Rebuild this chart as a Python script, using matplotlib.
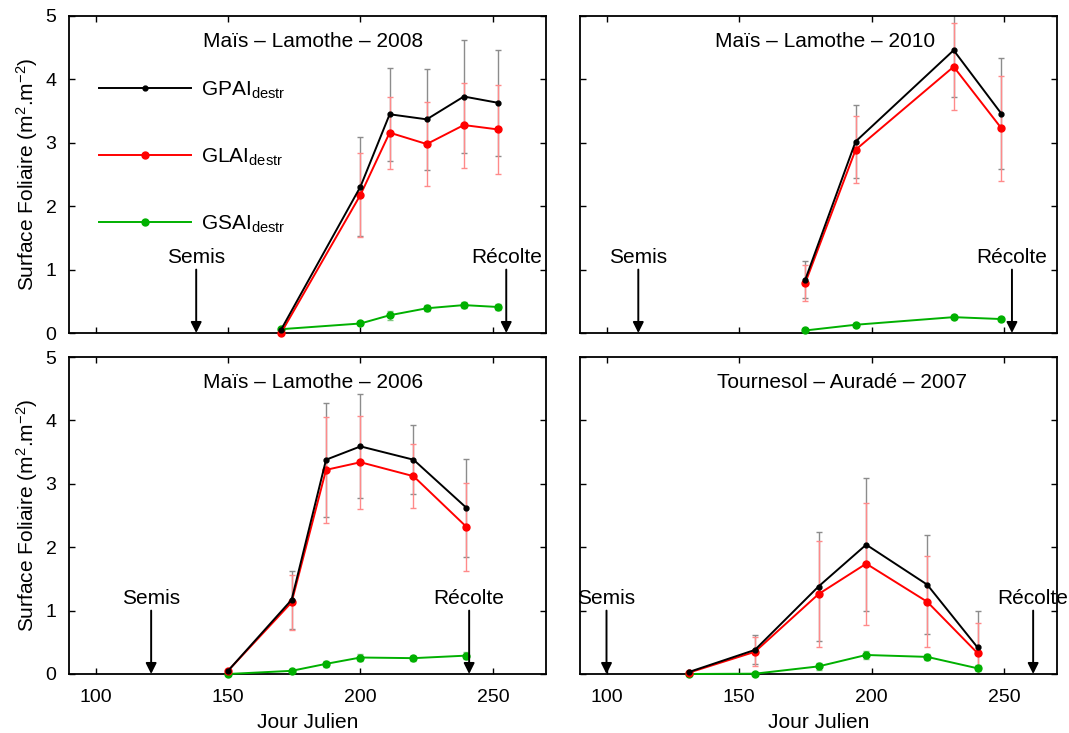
import matplotlib
matplotlib.use("Agg")
import matplotlib.pyplot as plt

plt.rcParams['font.family'] = ['Liberation Sans', 'DejaVu Sans']
plt.rcParams['mathtext.fontset'] = 'custom'
plt.rcParams['mathtext.rm'] = 'Liberation Sans'
plt.rcParams['mathtext.it'] = 'Liberation Sans:italic'
plt.rcParams['mathtext.bf'] = 'Liberation Sans:bold'

# --- Maïs – Lamothe – 2008 ---
day_2008 = [170, 200, 211, 225, 239, 252]
gpai_2008 = [0.05, 2.31, 3.45, 3.37, 3.73, 3.63]
gpai_err_2008 = [0.0, 0.78, 0.73, 0.80, 0.89, 0.84]
glai_2008 = [0.0, 2.18, 3.16, 2.98, 3.28, 3.21]
glai_err_2008 = [0.0, 0.66, 0.57, 0.66, 0.67, 0.70]
gsai_2008 = [0.06, 0.15, 0.28, 0.39, 0.44, 0.41]
gsai_err_2008 = [0.0, 0.03, 0.07, 0.05, 0.05, 0.05]

# --- Maïs – Lamothe – 2010 ---
day_2010 = [175, 194, 231, 249]
gpai_2010 = [0.84, 3.02, 4.46, 3.46]
gpai_err_2010 = [0.29, 0.57, 0.73, 0.88]
glai_2010 = [0.79, 2.89, 4.20, 3.23]
glai_err_2010 = [0.28, 0.53, 0.69, 0.83]
gsai_2010 = [0.04, 0.13, 0.25, 0.22]
gsai_err_2010 = [0.01, 0.02, 0.03, 0.03]

# --- Maïs – Lamothe – 2006 ---
day_2006 = [150, 174, 187, 200, 220, 240]
gpai_2006 = [0.05, 1.17, 3.38, 3.59, 3.38, 2.62]
gpai_err_2006 = [0.0, 0.46, 0.90, 0.82, 0.54, 0.77]
glai_2006 = [0.05, 1.13, 3.22, 3.34, 3.12, 2.32]
glai_err_2006 = [0.0, 0.43, 0.84, 0.73, 0.50, 0.70]
gsai_2006 = [0.0, 0.05, 0.16, 0.26, 0.25, 0.29]
gsai_err_2006 = [0.0, 0.02, 0.05, 0.05, 0.04, 0.05]

# --- Tournesol – Auradé – 2007 ---
day_2007 = [131, 156, 180, 198, 221, 240]
gpai_2007 = [0.03, 0.38, 1.38, 2.04, 1.41, 0.42]
gpai_err_2007 = [0.0, 0.23, 0.86, 1.05, 0.78, 0.57]
glai_2007 = [0.02, 0.35, 1.26, 1.74, 1.14, 0.33]
glai_err_2007 = [0.0, 0.23, 0.83, 0.96, 0.72, 0.47]
gsai_2007 = [0.0, 0.005, 0.12, 0.30, 0.27, 0.09]
gsai_err_2007 = [0.0, 0.01, 0.05, 0.06, 0.05, 0.05]

titles = ['Maïs – Lamothe – 2008', 'Maïs – Lamothe – 2010',
          'Maïs – Lamothe – 2006', 'Tournesol – Auradé – 2007']
title_x = [182, 182.5, 182, 189]
semis_day = [138, 112, 121, 100]
recolte_day = [255, 253, 241, 261]

panels = [
    (day_2008, gpai_2008, gpai_err_2008, glai_2008, glai_err_2008, gsai_2008, gsai_err_2008),
    (day_2010, gpai_2010, gpai_err_2010, glai_2010, glai_err_2010, gsai_2010, gsai_err_2010),
    (day_2006, gpai_2006, gpai_err_2006, glai_2006, glai_err_2006, gsai_2006, gsai_err_2006),
    (day_2007, gpai_2007, gpai_err_2007, glai_2007, glai_err_2007, gsai_2007, gsai_err_2007),
]

GREEN = '#00b000'
series_style = [
    ('k', '#8c8c8c', 3.5),
    ('#ff0000', '#ff8a8a', 5),
    (GREEN, '#80c880', 5),
]

fig = plt.figure(figsize=(10.69, 7.33), dpi=100)
W, H = 1069, 733
boxes = [(69, 16), (580, 16), (69, 357), (580, 357)]
aw, ah = 477, 317

for i, (px, py) in enumerate(boxes):
    ax = fig.add_axes([px / W, 1 - (py + ah) / H, aw / W, ah / H])
    days = panels[i][0]
    vals = panels[i][1:]
    handles = []
    for s in range(3):
        y = vals[2 * s]
        e = vals[2 * s + 1]
        col, ecol, ms = series_style[s]
        ax.errorbar(days, y, yerr=e, fmt='none', ecolor=ecol, elinewidth=1.0,
                    capsize=2.5, capthick=1.0, zorder=2)
    for s in range(3):
        y = vals[2 * s]
        col, ecol, ms = series_style[s]
        h, = ax.plot(days, y, '-', color=col, lw=1.4, marker='o', ms=ms,
                     mec=col, mfc=col, zorder=3 + (2 - s) * 0.1, clip_on=False)
        handles.append(h)

    # sowing and harvest markers
    for lbl, d in (('Semis', semis_day[i]), ('Récolte', recolte_day[i])):
        ax.annotate('', xy=(d, 0), xytext=(d, 1.0),
                    arrowprops=dict(arrowstyle='-|>', color='k', lw=1.4,
                                    mutation_scale=16, shrinkA=0, shrinkB=0),
                    zorder=4)
        ax.text(d, 1.04, lbl, ha='center', va='bottom', fontsize=15)

    ax.text(title_x[i], 4.59, titles[i], ha='center', va='center', fontsize=15)

    ax.set_xlim(90, 270)
    ax.set_ylim(0, 5)
    ax.set_xticks([100, 150, 200, 250])
    ax.set_yticks([0, 1, 2, 3, 4, 5])
    ax.tick_params(direction='in', top=True, right=True, length=4, width=1,
                   labelsize=14)
    ax.tick_params(axis='x', pad=11)
    ax.tick_params(axis='y', pad=9)
    for sp in ax.spines.values():
        sp.set_linewidth(1.3)
    if i in (0, 2):
        ax.set_ylabel('Surface Foliaire (m$^{2}$.m$^{-2}$)', fontsize=15, labelpad=4)
    else:
        ax.set_yticklabels([])
    if i in (2, 3):
        ax.set_xlabel('Jour Julien', fontsize=15, labelpad=5)
    else:
        ax.set_xticklabels([])

    if i == 0:
        ax.legend(handles,
                  ['GPAI$_{\\mathrm{destr}}$', 'GLAI$_{\\mathrm{destr}}$', 'GSAI$_{\\mathrm{destr}}$'],
                  loc='upper left', bbox_to_anchor=(0.063, 0.80), frameon=False,
                  fontsize=15, handlelength=4.4, handletextpad=0.5,
                  labelspacing=2.2, borderpad=0, borderaxespad=0)

fig.savefig('out.png', dpi=100)
